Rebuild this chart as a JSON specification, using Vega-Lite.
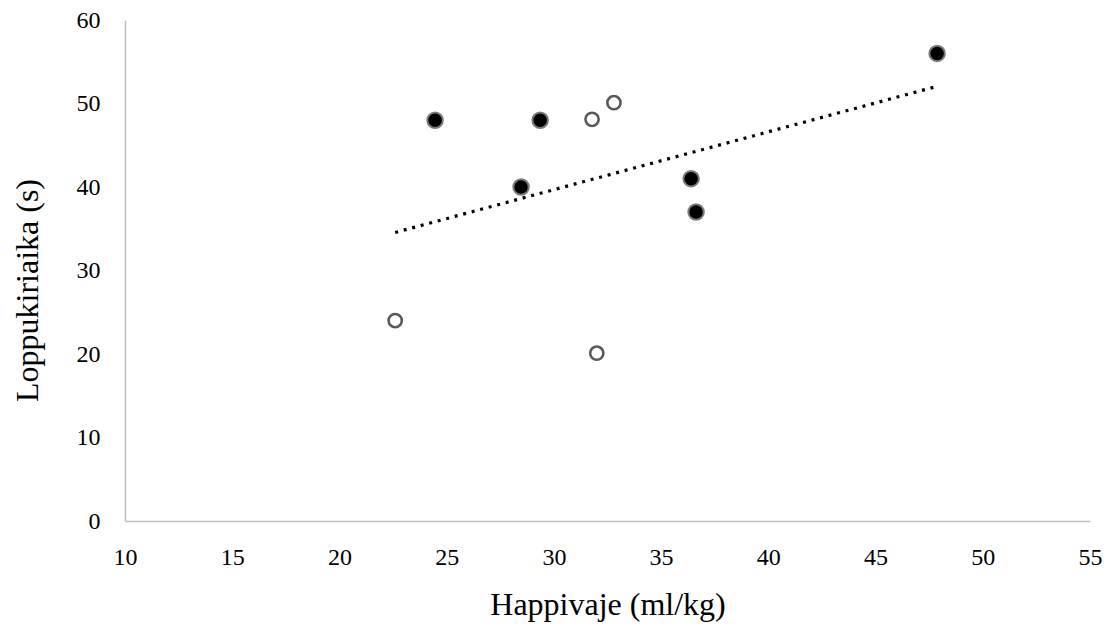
{
  "$schema": "https://vega.github.io/schema/vega-lite/v6.json",
  "autosize": "none",
  "width": 965,
  "height": 501,
  "padding": {"left": 125, "top": 20, "right": 22, "bottom": 107},
  "background": "white",
  "config": {
    "view": {"stroke": null},
    "font": "Liberation Serif",
    "axis": {
      "grid": false,
      "ticks": false,
      "labelFlush": false,
      "domainColor": "#bfbfbf",
      "domainWidth": 1.5,
      "labelFont": "Liberation Serif",
      "labelFontSize": 24,
      "labelColor": "#000000",
      "titleFont": "Liberation Serif",
      "titleFontSize": 32,
      "titleFontWeight": "normal",
      "titleColor": "#000000"
    }
  },
  "data": {
    "values": [
      {"happivaje": 24.46, "loppukiriaika": 48, "ryhma": "täytetty"},
      {"happivaje": 29.36, "loppukiriaika": 48, "ryhma": "täytetty"},
      {"happivaje": 28.47, "loppukiriaika": 40, "ryhma": "täytetty"},
      {"happivaje": 36.4, "loppukiriaika": 41, "ryhma": "täytetty"},
      {"happivaje": 36.63, "loppukiriaika": 37, "ryhma": "täytetty"},
      {"happivaje": 47.87, "loppukiriaika": 56, "ryhma": "täytetty"},
      {"happivaje": 22.6, "loppukiriaika": 24, "ryhma": "avoin"},
      {"happivaje": 31.78, "loppukiriaika": 48.1, "ryhma": "avoin"},
      {"happivaje": 32.8, "loppukiriaika": 50.1, "ryhma": "avoin"},
      {"happivaje": 32.0, "loppukiriaika": 20.1, "ryhma": "avoin"}
    ]
  },
  "layer": [
    {
      "transform": [{"regression": "loppukiriaika", "on": "happivaje"}],
      "mark": {"type": "line", "color": "#000000", "strokeWidth": 3.2, "strokeDash": [3, 5.8]},
      "encoding": {
        "x": {"field": "happivaje", "type": "quantitative"},
        "y": {"field": "loppukiriaika", "type": "quantitative"}
      }
    },
    {
      "mark": {"type": "point", "shape": "circle", "filled": false, "opacity": 1},
      "encoding": {
        "x": {
          "field": "happivaje",
          "type": "quantitative",
          "scale": {"domain": [10, 55], "nice": false, "zero": false},
          "axis": {"values": [10, 15, 20, 25, 30, 35, 40, 45, 50, 55], "labelPadding": 24, "title": "Happivaje (ml/kg)", "titlePadding": 20}
        },
        "y": {
          "field": "loppukiriaika",
          "type": "quantitative",
          "scale": {"domain": [0, 60], "nice": false},
          "axis": {"values": [0, 10, 20, 30, 40, 50, 60], "labelPadding": 25, "title": "Loppukiriaika (s)", "titlePadding": 32, "titleY": 270}
        },
        "size": {
          "field": "ryhma",
          "type": "nominal",
          "scale": {"domain": ["täytetty", "avoin"], "range": [240, 175]},
          "legend": null
        },
        "fill": {
          "field": "ryhma",
          "type": "nominal",
          "scale": {"domain": ["täytetty", "avoin"], "range": ["#000000", "#ffffff"]},
          "legend": null
        },
        "stroke": {
          "field": "ryhma",
          "type": "nominal",
          "scale": {"domain": ["täytetty", "avoin"], "range": ["#7a7a7a", "#5a5a5a"]},
          "legend": null
        },
        "strokeWidth": {
          "field": "ryhma",
          "type": "nominal",
          "scale": {"domain": ["täytetty", "avoin"], "range": [2, 2.6]},
          "legend": null
        }
      }
    }
  ]
}
